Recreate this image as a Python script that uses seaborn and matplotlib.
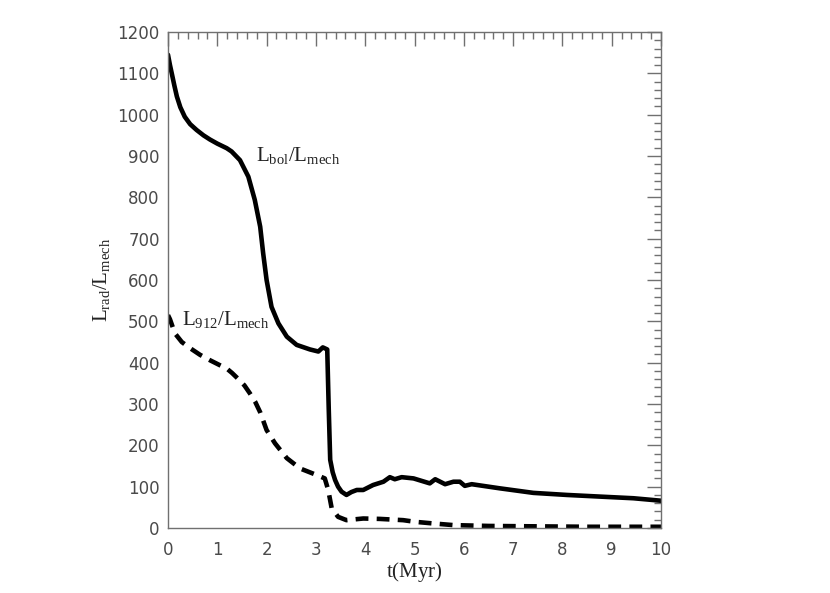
import numpy as np
import pandas as pd
import matplotlib
matplotlib.use("Agg")
import matplotlib.pyplot as plt
from matplotlib.ticker import MultipleLocator
import seaborn as sns

# values
t_bol = [0.0, 0.04, 0.08, 0.13, 0.18, 0.25, 0.34, 0.45, 0.58, 0.72, 0.85, 1.0, 1.19,
         1.29, 1.46, 1.63, 1.76, 1.87, 1.93, 2.00, 2.10, 2.24, 2.41, 2.61, 2.88,
         3.05, 3.14, 3.23, 3.26, 3.29, 3.34, 3.39, 3.45, 3.52, 3.62, 3.72, 3.83,
         3.96, 4.16, 4.37, 4.50, 4.60, 4.74, 4.98, 5.31, 5.42, 5.62, 5.79, 5.92, 6.02,
         6.16, 6.73, 7.41, 8.09, 8.76, 9.44, 10.0]
l_bol = [1145, 1120, 1098, 1070, 1044, 1018, 995, 977, 963, 950, 940, 930, 919,
         911, 890, 850, 794, 729, 665, 600, 535, 495, 463, 443, 432,
         427, 437, 432, 290, 165, 135, 116, 100, 88, 80, 87, 92,
         92, 104, 112, 123, 118, 123, 120, 108, 118, 106, 112, 112, 102,
         106, 96, 85, 80, 76, 72, 66]

t_912 = [0.0, 0.04, 0.14, 0.28, 0.45, 0.65, 0.85, 1.05, 1.19, 1.30, 1.43, 1.55, 1.66,
         1.77, 1.87, 2.0, 2.17, 2.41, 2.68, 3.02, 3.18, 3.25, 3.32, 3.45, 3.62,
         3.96, 4.30, 4.77, 5.01, 5.38, 5.79, 6.5, 7.5, 8.5, 10.0]
l_912 = [515, 505, 471, 450, 435, 419, 406, 394, 386, 375, 360, 345, 326,
         305, 280, 237, 205, 169, 144, 128, 120, 92, 48, 27, 19,
         23, 22, 19, 15, 11, 7, 5, 4, 3, 3]

df_bol = pd.DataFrame({"t": t_bol, "ratio": l_bol})
df_912 = pd.DataFrame({"t": t_912, "ratio": l_912})

sns.set_style("white")
plt.rcParams['mathtext.fontset'] = 'custom'
plt.rcParams['mathtext.rm'] = 'Liberation Serif'
plt.rcParams['mathtext.it'] = 'Liberation Serif:italic'

axcol = '#707070'
fig = plt.figure(figsize=(8.3, 5.93), dpi=100)
ax = fig.add_axes([0.2024, 0.1096, 0.594, 0.8364])

sns.lineplot(data=df_bol, x="t", y="ratio", ax=ax, color='black', lw=3.3,
             estimator=None, solid_joinstyle='round')
sns.lineplot(data=df_912, x="t", y="ratio", ax=ax, color='black', lw=3.3,
             estimator=None, linestyle=(0, (2.8, 1.8)), dash_capstyle='butt')

ax.set_xlim(0, 10)
ax.set_ylim(0, 1200)
ax.xaxis.set_major_locator(MultipleLocator(1))
ax.xaxis.set_minor_locator(MultipleLocator(0.2))
ax.yaxis.set_major_locator(MultipleLocator(100))
ax.yaxis.set_minor_locator(MultipleLocator(20))
ax.tick_params(which='both', direction='in', top=True, right=True,
               color=axcol, labelcolor='#4a4a4a', labelsize=12)
ax.tick_params(which='major', length=10, width=1)
ax.tick_params(which='minor', length=5, width=1)
ax.tick_params(axis='x', pad=9)
ax.tick_params(axis='y', pad=6)
for s in ax.spines.values():
    s.set_color(axcol)
    s.set_linewidth(1)

ax.set_xlabel(r'$\mathrm{t(Myr)}$', fontsize=15, color='#222222', labelpad=1)
ax.set_ylabel(r'$\mathrm{L_{rad}/L_{mech}}$', fontsize=15, color='#222222', labelpad=4)

ax.text(1.78, 902, r'$\mathrm{L_{bol}/L_{mech}}$', fontsize=15, color='#222222',
        va='center', ha='left')
ax.text(0.28, 505, r'$\mathrm{L_{912}/L_{mech}}$', fontsize=15, color='#222222',
        va='center', ha='left')

fig.savefig("out.png", dpi=100)
